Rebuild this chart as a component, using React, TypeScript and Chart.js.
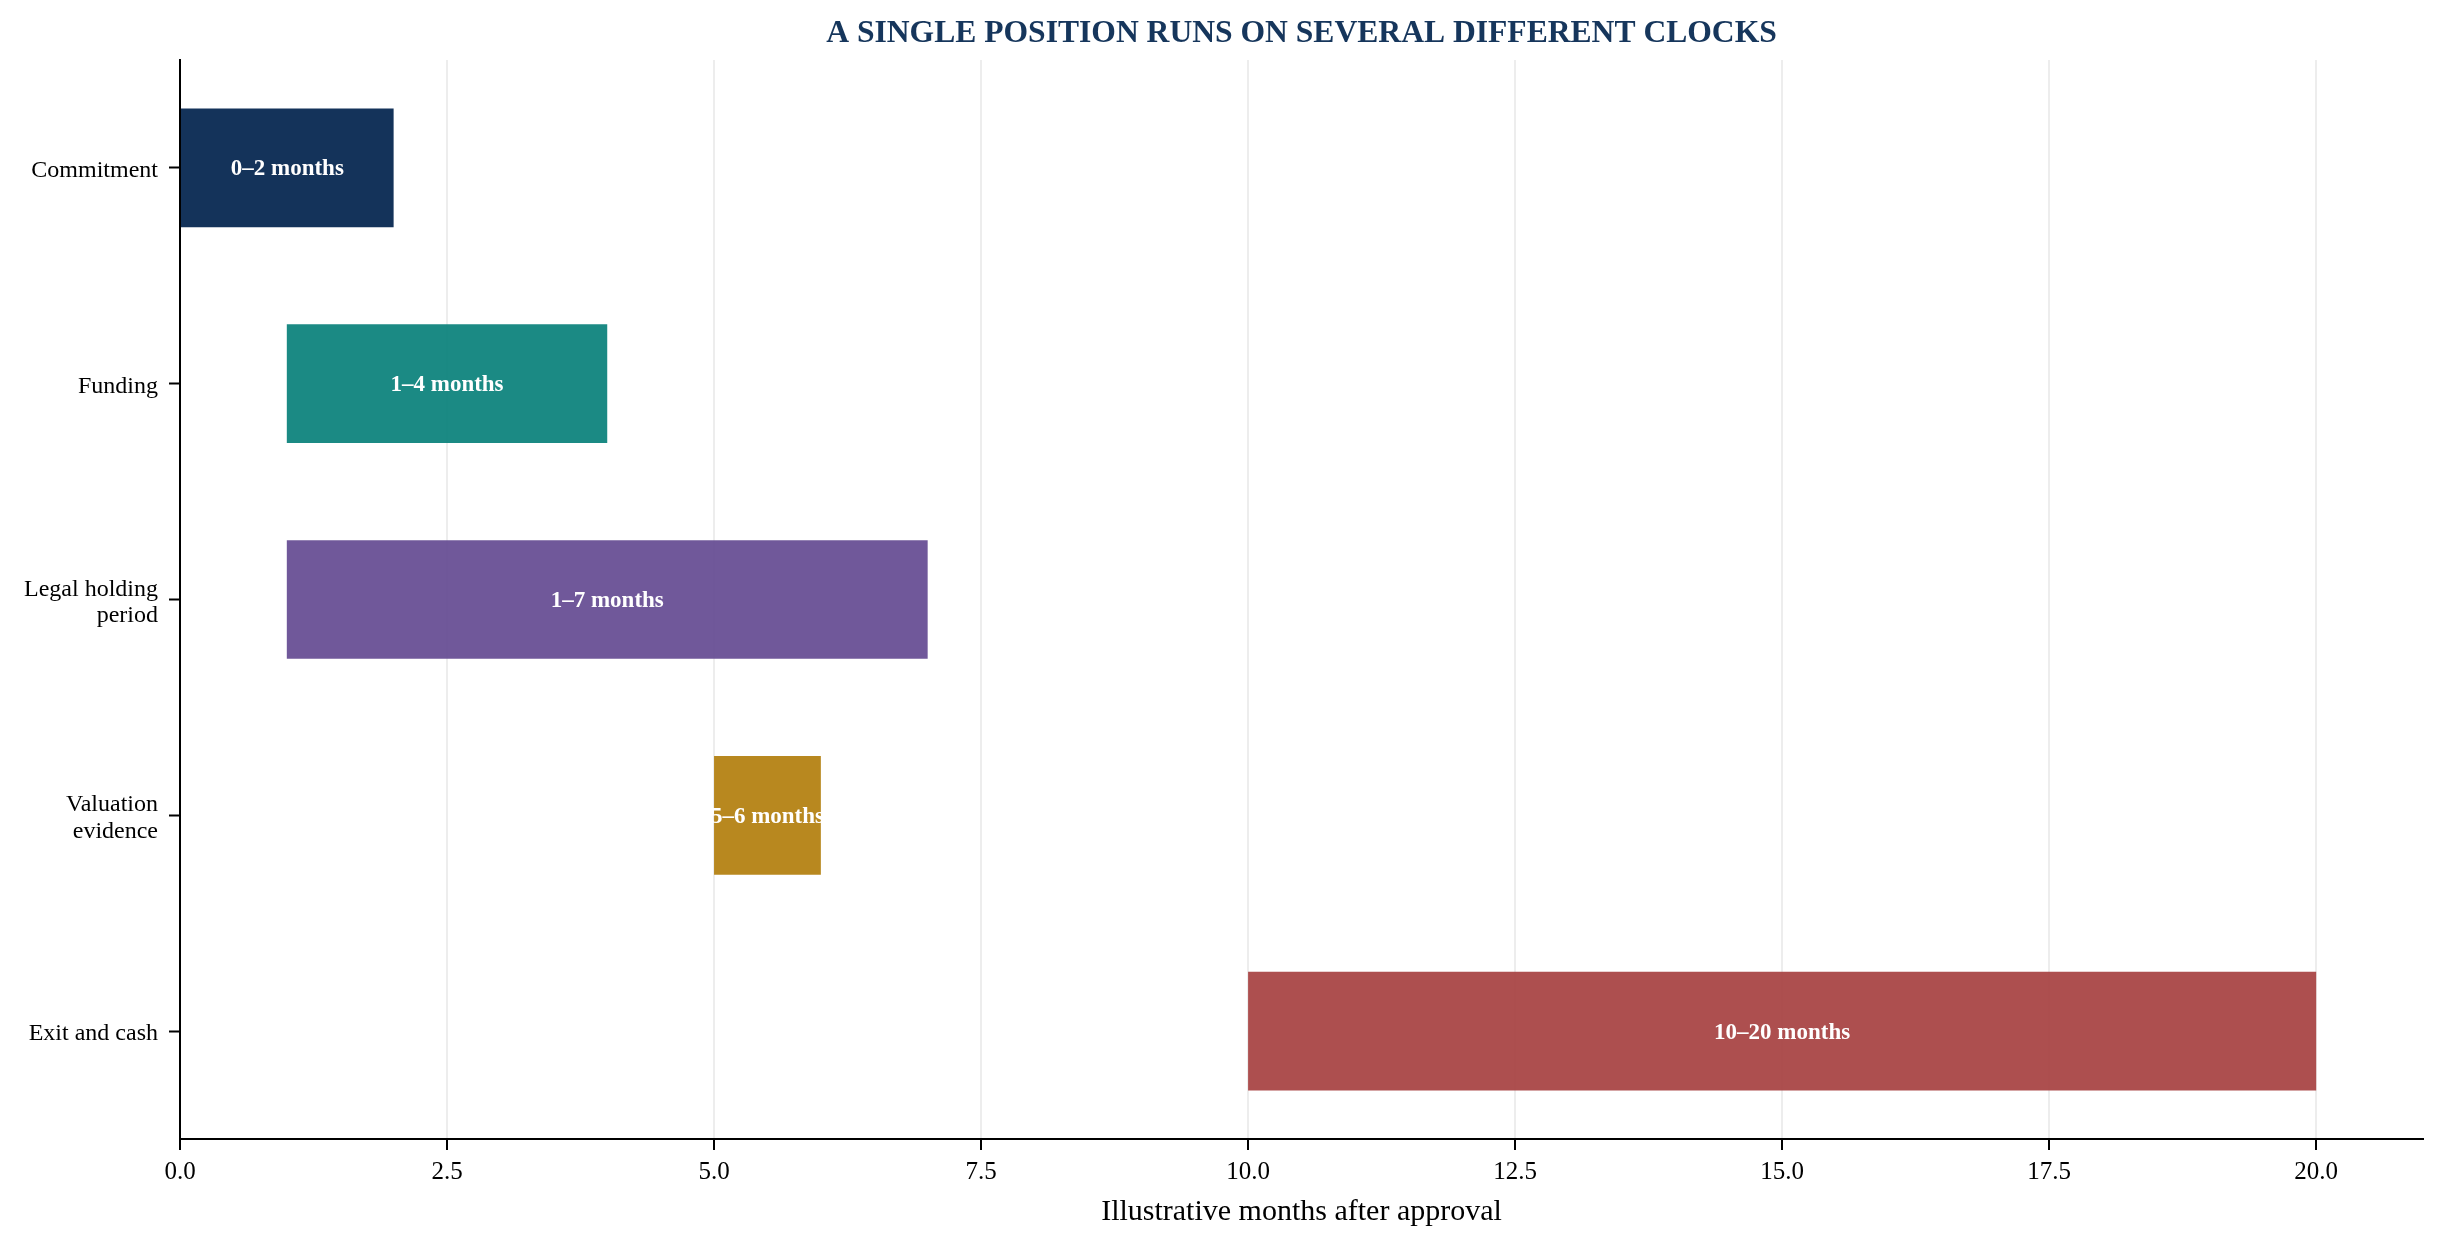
import React, { useEffect, useRef } from 'react';
import { Chart, registerables } from 'chart.js';

Chart.register(...registerables);

const TITLE = 'A SINGLE POSITION RUNS ON SEVERAL DIFFERENT CLOCKS';
const X_TITLE = 'Illustrative months after approval';

const stages = [['Commitment'], ['Funding'], ['Legal holding', 'period'], ['Valuation', 'evidence'], ['Exit and cash']];
const startMonths = [0, 1, 1, 5, 10];
const endMonths = [2, 4, 7, 6, 20];
const barLabels = ['0–2 months', '1–4 months', '1–7 months', '5–6 months', '10–20 months'];
const barColors = [
    'rgba(0, 34, 76, 0.92)',
    'rgba(8, 128, 121, 0.92)',
    'rgba(100, 74, 145, 0.92)',
    'rgba(178, 126, 12, 0.92)',
    'rgba(166, 64, 64, 0.92)',
];
const xTickValues = [0, 2.5, 5, 7.5, 10, 12.5, 15, 17.5, 20];

const SERIF = "'Liberation Serif', 'Times New Roman', serif";

// title centred over the plot area, like the original
const titlePlugin = {
    id: 'plotTitle',
    afterDraw(chart: any) {
        const { ctx, chartArea } = chart;
        ctx.save();
        ctx.font = `bold 31.6px ${SERIF}`;
        ctx.fillStyle = '#16365c';
        ctx.textAlign = 'center';
        ctx.textBaseline = 'middle';
        ctx.fillText(TITLE, (chartArea.left + chartArea.right) / 2, 34);
        ctx.restore();
    },
};

// white range labels in the middle of each bar
const barLabelPlugin = {
    id: 'barLabels',
    afterDatasetsDraw(chart: any) {
        const { ctx } = chart;
        const meta = chart.getDatasetMeta(0);
        ctx.save();
        ctx.font = `bold 23px ${SERIF}`;
        ctx.fillStyle = '#ffffff';
        ctx.textAlign = 'center';
        ctx.textBaseline = 'middle';
        meta.data.forEach((bar: any, i: number) => {
            ctx.fillText(barLabels[i], (bar.x + bar.base) / 2, bar.y + 1.5);
        });
        ctx.restore();
    },
};

export default function App() {
    const chartRef = useRef<HTMLCanvasElement>(null);
    const chartInstance = useRef<Chart | null>(null);

    useEffect(() => {
        if (!chartRef.current) return;
        if (chartInstance.current) chartInstance.current.destroy();

        chartInstance.current = new Chart(chartRef.current, {
            type: 'bar',
            data: {
                labels: stages,
                datasets: [{
                    data: stages.map((_, i) => [startMonths[i], endMonths[i]]),
                    backgroundColor: barColors,
                    borderWidth: 0,
                    barPercentage: 0.55,
                    categoryPercentage: 1,
                }],
            },
            options: {
                indexAxis: 'y',
                animation: false,
                responsive: true,
                maintainAspectRatio: false,
                devicePixelRatio: 1,
                layout: { padding: { top: 60, right: 20, bottom: 0, left: 0 } },
                plugins: {
                    legend: { display: false },
                    tooltip: { enabled: false },
                    title: { display: false },
                },
                scales: {
                    x: {
                        type: 'linear',
                        min: 0,
                        max: 21,
                        afterBuildTicks: (scale: any) => {
                            scale.ticks = xTickValues.map((v) => ({ value: v }));
                        },
                        afterFit: (scale: any) => {
                            scale.height = 109;
                        },
                        grid: {
                            color: '#ededed',
                            lineWidth: 2,
                            tickColor: '#000000',
                            tickLength: 11,
                            tickWidth: 2,
                        },
                        border: { display: true, color: '#000000', width: 2 },
                        ticks: {
                            color: '#000000',
                            padding: 7,
                            font: { family: SERIF, size: 25 },
                            callback: (v: any) => Number(v).toFixed(1),
                        },
                        title: {
                            display: true,
                            text: X_TITLE,
                            color: '#000000',
                            font: { family: SERIF, size: 30 },
                            padding: { top: 0, bottom: 18 },
                        },
                    },
                    y: {
                        afterFit: (scale: any) => {
                            scale.width = 180;
                        },
                        grid: {
                            drawOnChartArea: false,
                            offset: false,
                            tickColor: '#000000',
                            tickLength: 11,
                            tickWidth: 2,
                        },
                        border: { display: true, color: '#000000', width: 2 },
                        ticks: {
                            color: '#000000',
                            padding: 11,
                            labelOffset: 3,
                            font: { family: SERIF, size: 24, lineHeight: 1.1 },
                        },
                    },
                },
            } as any,
            plugins: [titlePlugin, barLabelPlugin],
        });

        return () => {
            if (chartInstance.current) {
                chartInstance.current.destroy();
                chartInstance.current = null;
            }
        };
    }, []);

    return (
        <div style={{ position: 'fixed', left: 0, top: 0, width: 2443, height: 1248, background: '#ffffff' }}>
            <canvas ref={chartRef}></canvas>
        </div>
    );
}
